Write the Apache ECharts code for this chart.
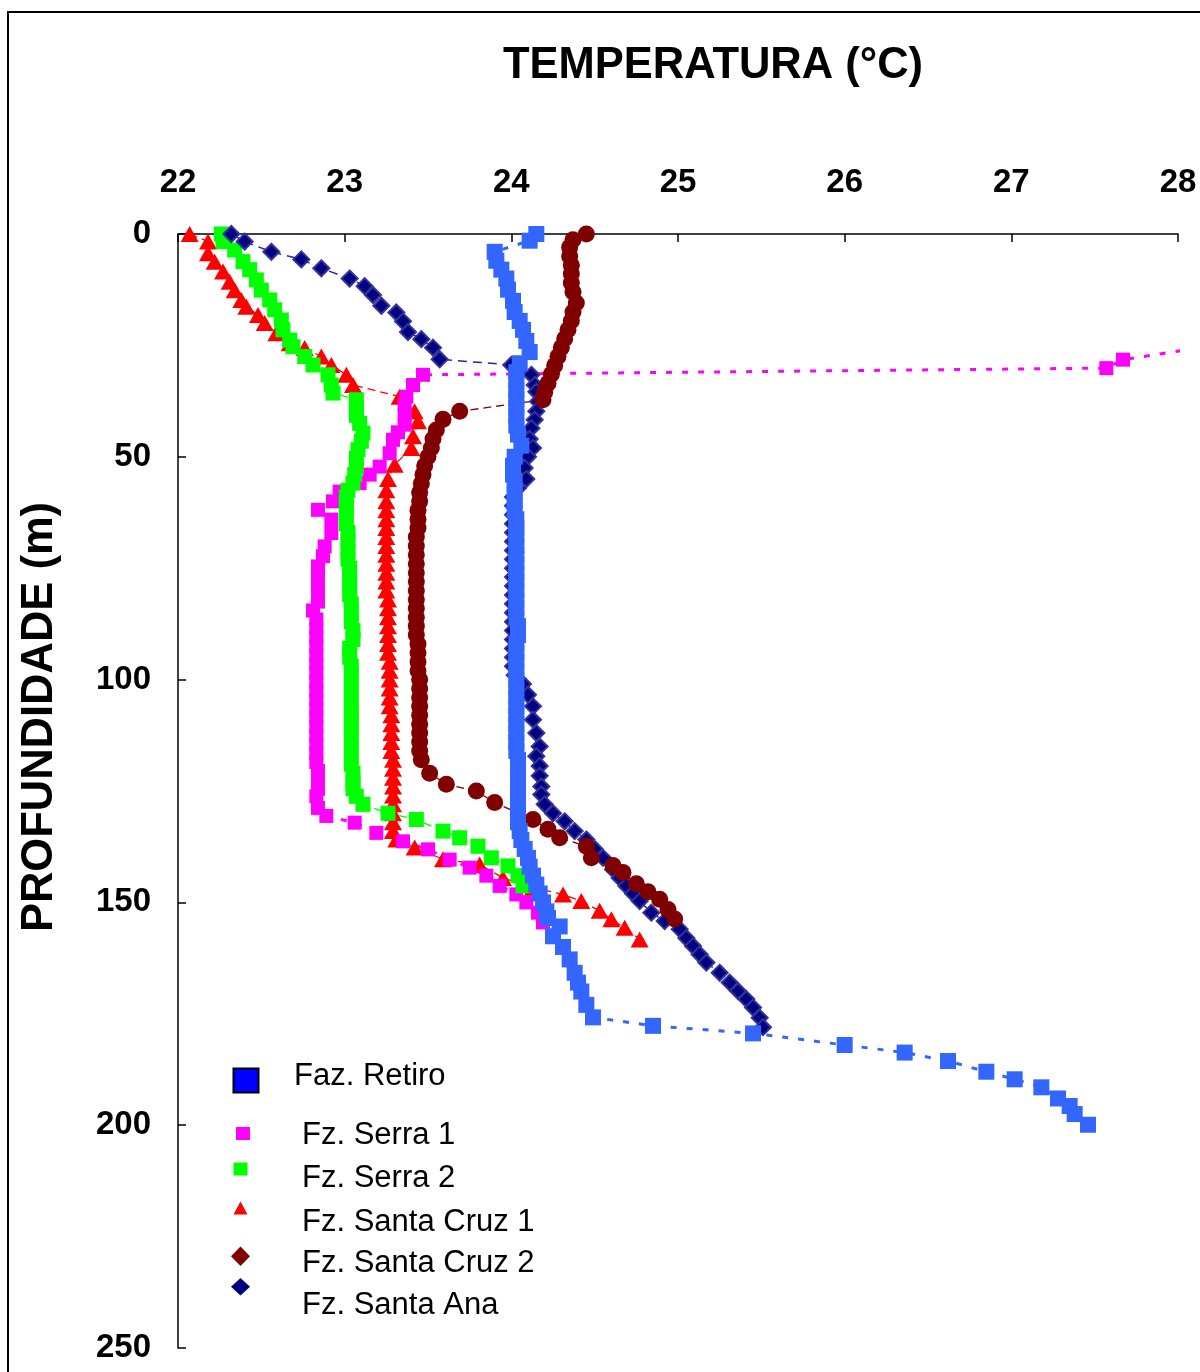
<!DOCTYPE html>
<html><head><meta charset="utf-8">
<script src="https://cdn.jsdelivr.net/npm/echarts/dist/echarts.min.js"></script>
<style>html,body{margin:0;padding:0;background:#fff}#c{width:1200px;height:1372px}</style>
</head><body><div id="c"></div>
<script>
// [temperature °C, depth m]
const fazRetiro = [[24.15,0],[24.11,1.5],[23.90,4],[23.91,6],[23.94,8],[23.97,10],[23.98,12.5],[24.01,15],[24.02,17.5],[24.05,19.5],[24.07,21.5],[24.09,24],[24.11,26.5],[24.05,29],[24.03,31],[24.03,33],[24.03,35],[24.03,37],[24.03,39],[24.03,41],[24.03,43],[24.04,45],[24.06,47.5],[24.02,50],[24.01,52],[24.01,54],[24.02,56],[24.02,58],[24.02,60],[24.02,62],[24.03,64],[24.03,66],[24.03,68],[24.03,70],[24.03,72],[24.03,74],[24.03,76],[24.03,78],[24.03,80],[24.03,82],[24.03,84],[24.03,86],[24.04,88],[24.04,90],[24.03,92],[24.03,94],[24.03,96],[24.03,98],[24.03,100],[24.03,102],[24.03,104],[24.03,106],[24.03,108],[24.03,110],[24.03,112],[24.03,114],[24.03,116],[24.04,118],[24.04,120],[24.04,122],[24.04,124],[24.04,126],[24.04,128],[24.04,130],[24.04,132],[24.05,134],[24.06,136],[24.08,138],[24.10,140],[24.11,142],[24.13,144],[24.15,146],[24.17,148],[24.19,150],[24.21,152],[24.22,153.5],[24.29,155.4],[24.25,157.6],[24.31,160],[24.35,162.8],[24.38,165.8],[24.40,168],[24.42,170],[24.45,173],[24.49,175.8],[24.85,177.7],[25.45,179.4],[26.00,182],[26.36,183.7],[26.62,185.6],[26.85,188],[27.02,189.7],[27.18,191.5],[27.28,194],[27.35,195.7],[27.38,197.5],[27.46,199.9]];
const fzSerra1 = [[28.40,24],[27.67,28.2],[27.57,30.1],[23.47,31.6],[23.41,33.9],[23.37,36.5],[23.36,38.5],[23.36,40.5],[23.36,42.8],[23.32,44.5],[23.29,46.2],[23.27,49.2],[23.21,52.2],[23.15,54],[23.09,55.9],[22.97,57.8],[22.93,60],[22.84,61.9],[22.92,64.1],[22.92,67.1],[22.88,70.1],[22.87,72.3],[22.84,74.6],[22.84,76.5],[22.84,78.5],[22.84,80.5],[22.84,82.5],[22.81,84.5],[22.83,86.5],[22.83,88.5],[22.83,90.5],[22.83,92.5],[22.83,94.5],[22.83,96.5],[22.83,98.5],[22.83,100.5],[22.83,102.5],[22.83,104.5],[22.83,106.5],[22.83,108.5],[22.83,110.5],[22.83,112.5],[22.83,114.5],[22.83,116.5],[22.83,118.5],[22.84,120.5],[22.84,122.5],[22.84,124.5],[22.83,126.2],[22.84,128.8],[22.89,130.6],[23.06,132.1],[23.19,134.4],[23.35,136.3],[23.50,138.1],[23.63,140.4],[23.75,142.2],[23.85,144],[23.93,146.3],[24.03,148.2],[24.09,150],[24.16,152.3],[24.19,154.5]];
const fzSerra2 = [[22.26,0],[22.27,1.7],[22.34,3.6],[22.39,6.2],[22.43,8],[22.47,10.3],[22.50,12.6],[22.55,14.8],[22.58,17],[22.62,19.3],[22.63,21.5],[22.67,23.8],[22.69,25.3],[22.76,27.5],[22.81,29.4],[22.90,31.6],[22.92,33.9],[22.93,35.7],[23.07,37.2],[23.07,39],[23.07,40.7],[23.09,42.5],[23.11,44.7],[23.10,46.5],[23.08,48.4],[23.07,50.3],[23.07,52.2],[23.06,54],[23.05,55.9],[23.02,57.5],[23.01,59],[23.01,61],[23.01,63],[23.01,65],[23.02,67],[23.02,69],[23.02,71],[23.02,73],[23.03,75],[23.03,77],[23.03,79],[23.03,81],[23.04,83],[23.04,85],[23.04,87],[23.05,89],[23.05,91],[23.03,93],[23.03,95],[23.04,97],[23.04,99],[23.04,101],[23.04,103],[23.04,105],[23.04,107],[23.04,109],[23.04,111],[23.04,113],[23.04,115],[23.04,117],[23.04,119],[23.05,121],[23.05,123],[23.05,124.5],[23.07,126.2],[23.11,128],[23.26,130],[23.43,131.4],[23.59,134],[23.69,135.5],[23.80,137.4],[23.88,140],[23.98,141.8],[24.04,144],[24.07,146.3]];
const fzSantaCruz1 = [[22.07,0],[22.18,1.7],[22.18,4.3],[22.22,6.2],[22.27,8.4],[22.31,10.7],[22.34,12.6],[22.38,14.8],[22.41,16.3],[22.48,18.2],[22.52,20],[22.59,22.3],[22.67,24.5],[22.76,25.6],[22.86,27.5],[22.92,29.4],[23.01,31.6],[23.05,33.9],[23.33,36.5],[23.42,39.8],[23.44,42],[23.41,45.4],[23.40,48],[23.30,51.8],[23.26,55],[23.25,57.5],[23.25,60],[23.25,62],[23.25,64],[23.25,66],[23.25,68],[23.25,70],[23.25,72],[23.25,74],[23.25,76],[23.25,78],[23.25,80],[23.26,82],[23.26,84],[23.26,86],[23.26,88],[23.26,90],[23.26,92],[23.26,94],[23.27,96],[23.27,98],[23.27,100],[23.27,102],[23.27,104],[23.27,106],[23.28,108],[23.28,110],[23.28,112],[23.28,114],[23.28,116],[23.29,118],[23.29,120],[23.29,122],[23.29,124],[23.29,126],[23.29,128],[23.29,130],[23.29,132],[23.29,134],[23.31,135.9],[23.42,137.7],[23.59,140.3],[23.81,141.5],[23.95,144.5],[24.13,146.7],[24.31,148.2],[24.42,149.7],[24.53,151.9],[24.60,153.8],[24.68,155.7],[24.77,158.3]];
const fzSantaCruz2 = [[24.45,0],[24.37,1.3],[24.35,3],[24.35,5],[24.36,7],[24.36,9],[24.36,11],[24.37,13],[24.39,15.5],[24.37,17.5],[24.36,19.5],[24.34,21.5],[24.32,23.5],[24.30,25.5],[24.28,27.5],[24.26,29.5],[24.24,31.5],[24.22,33.5],[24.20,35.5],[24.19,37.2],[23.69,39.8],[23.59,41.6],[23.55,44],[23.53,46],[23.52,48],[23.50,50],[23.48,52],[23.47,54],[23.46,56],[23.45,58],[23.45,60],[23.44,62],[23.44,64],[23.44,66],[23.43,68],[23.43,70],[23.43,72],[23.43,74],[23.43,76],[23.43,78],[23.43,80],[23.43,82],[23.43,84],[23.43,86],[23.43,88],[23.43,90],[23.44,92],[23.44,94],[23.44,96],[23.44,98],[23.45,100],[23.45,102],[23.45,104],[23.45,106],[23.45,108],[23.45,110],[23.45,112],[23.45,114],[23.45,116],[23.46,118],[23.51,121],[23.61,123.5],[23.79,125],[23.90,127.6],[24.13,131.4],[24.22,133.6],[24.29,135.5],[24.45,137.4],[24.48,140],[24.61,141.7],[24.67,143.3],[24.75,145.8],[24.82,147.6],[24.89,149.3],[24.94,151.6],[24.98,153.7]];
const fzSantaAna = [[22.32,0],[22.40,1.7],[22.56,4],[22.74,5.7],[22.86,7.7],[23.03,10],[23.12,11.7],[23.17,13.7],[23.22,16.1],[23.31,17.6],[23.35,19.6],[23.38,22],[23.46,23.6],[23.53,25.5],[23.57,28.1],[24.00,29.4],[24.12,31.6],[24.14,33.9],[24.15,35.4],[24.16,37.6],[24.15,39.8],[24.14,41.7],[24.12,43.6],[24.11,46],[24.13,48],[24.10,50],[24.08,52.5],[24.09,55],[24.04,57],[24.01,59],[24.01,61],[24.01,63],[24.01,65],[24.01,67],[24.01,69],[24.01,71],[24.01,73],[24.01,75],[24.01,77],[24.01,79],[24.01,81],[24.01,83],[24.01,85],[24.01,87],[24.01,89],[24.01,91],[24.01,93],[24.01,95],[24.01,97],[24.02,99],[24.07,101],[24.10,103.4],[24.13,106],[24.13,109],[24.15,112],[24.17,115],[24.15,117.2],[24.17,119.4],[24.17,121.6],[24.18,124],[24.18,125.8],[24.20,128],[24.25,130],[24.32,131.8],[24.38,134],[24.45,135.9],[24.50,138],[24.55,140],[24.61,142.6],[24.65,144.5],[24.69,146.3],[24.73,148],[24.77,149.7],[24.84,152.3],[24.92,154.2],[25.01,156],[25.05,158],[25.09,159.8],[25.13,161.7],[25.17,163.5],[25.25,165.8],[25.31,168],[25.36,169.9],[25.41,171.7],[25.45,173.6],[25.49,175.9],[25.51,178]];

const xTicks = {min: 22, max: 28, interval: 1};
const yTicks = {min: 0, max: 250, interval: 50};
const legendNames = ['Faz. Retiro','Fz. Serra 1','Fz. Serra 2','Fz. Santa Cruz 1','Fz. Santa Cruz 2','Fz. Santa Ana'];

const FONT = '"Liberation Sans", Arial, sans-serif';
const chart = echarts.init(document.getElementById('c'), null, {renderer: 'canvas'});

function lineSeries(name, data, symbol, size, color, line, extra) {
  return Object.assign({
    name: name, type: 'line', data: data, symbol: symbol, symbolSize: size,
    showSymbol: true, showAllSymbol: true, animation: false, silent: true,
    itemStyle: {color: color}, lineStyle: line, emphasis: {disabled: true}
  }, extra || {});
}

const legendY = [1076, 1135, 1178, 1222, 1263, 1305];
const legendX = [294, 302, 302, 302, 302, 302];

const option = {
  backgroundColor: '#fff',
  animation: false,
  title: {
    text: 'TEMPERATURA (°C)', left: 708, textAlign: 'center', top: 39,
    textStyle: {fontFamily: FONT, fontWeight: 'bold', fontSize: 43.5, color: '#000'}
  },
  grid: {left: 178, top: 234, right: 22, bottom: 24, containLabel: false},
  xAxis: {
    type: 'value', position: 'top', min: xTicks.min, max: xTicks.max, interval: xTicks.interval,
    axisLine: {show: true, lineStyle: {color: '#000', width: 1.5}},
    axisTick: {show: true, inside: true, length: 8, lineStyle: {color: '#000', width: 1.5}},
    axisLabel: {margin: 35, fontFamily: FONT, fontWeight: 'bold', fontSize: 33, color: '#000'},
    splitLine: {show: false}
  },
  yAxis: {
    type: 'value', inverse: true, min: yTicks.min, max: yTicks.max, interval: yTicks.interval,
    axisLine: {show: true, lineStyle: {color: '#000', width: 1.5}},
    axisTick: {show: true, inside: true, length: 8, lineStyle: {color: '#000', width: 1.5}},
    axisLabel: {margin: 27, fontFamily: FONT, fontWeight: 'bold', fontSize: 33, color: '#000'},
    splitLine: {show: false}
  },
  series: [
    lineSeries(legendNames[3], fzSantaCruz1, 'triangle', [18, 16], '#FF0000', {color: '#FF0000', width: 1.3, type: [8, 5]}),
    lineSeries(legendNames[1], fzSerra1, 'rect', 14, '#FF00FF', {color: '#FF00FF', width: 3, type: [6, 10]}, {clip: false}),
    lineSeries(legendNames[2], fzSerra2, 'rect', 15, '#00FF00', {color: '#00FF00', width: 1.3, type: [8, 5]}),
    lineSeries(legendNames[5], fzSantaAna, 'diamond', 16, '#000080', {color: '#2B2B95', width: 1.5, type: [9, 6]}, {itemStyle: {color: '#000080', borderColor: '#333399', borderWidth: 2}}),
    lineSeries(legendNames[4], fzSantaCruz2, 'circle', 17, '#800000', {color: '#800000', width: 1.3, type: [8, 5]}),
    lineSeries(legendNames[0], fazRetiro, 'rect', 16, '#3366FF', {color: '#3366FF', width: 3, type: [6, 10]})
  ],
  graphic: [
    {type: 'rect', silent: true, shape: {x: 8, y: 12, width: 1300, height: 1500}, style: {fill: 'none', stroke: '#000', lineWidth: 2}},
    {type: 'text', silent: true, x: 40, y: 717, rotation: Math.PI / 2,
     style: {text: 'PROFUNDIDADE (m)', font: 'bold 43.5px ' + FONT, fill: '#000', align: 'center', verticalAlign: 'middle'}},
    // legend symbols
    {type: 'rect', silent: true, shape: {x: 233.5, y: 1068.5, width: 25, height: 24}, style: {fill: '#0000FF', stroke: '#000', lineWidth: 2}},
    {type: 'rect', silent: true, shape: {x: 236, y: 1127, width: 14, height: 13}, style: {fill: '#FF00FF'}},
    {type: 'rect', silent: true, shape: {x: 233.5, y: 1162.5, width: 14, height: 13}, style: {fill: '#00FF00'}},
    {type: 'polygon', silent: true, shape: {points: [[240.5, 1201.5], [247.5, 1214.5], [233.5, 1214.5]]}, style: {fill: '#FF0000'}},
    {type: 'polygon', silent: true, shape: {points: [[240.5, 1246.5], [250, 1256.2], [240.5, 1266], [231, 1256.2]]}, style: {fill: '#800000'}},
    {type: 'polygon', silent: true, shape: {points: [[240.5, 1278], [250, 1286.7], [240.5, 1295.5], [231, 1286.7]]}, style: {fill: '#000080'}}
  ].concat(legendNames.map(function (n, i) {
    return {type: 'text', silent: true, x: legendX[i], y: legendY[i],
      style: {text: n, font: '31px ' + FONT, fill: '#000', align: 'left', verticalAlign: 'middle'}};
  }))
};
chart.setOption(option);
</script>
</body></html>
